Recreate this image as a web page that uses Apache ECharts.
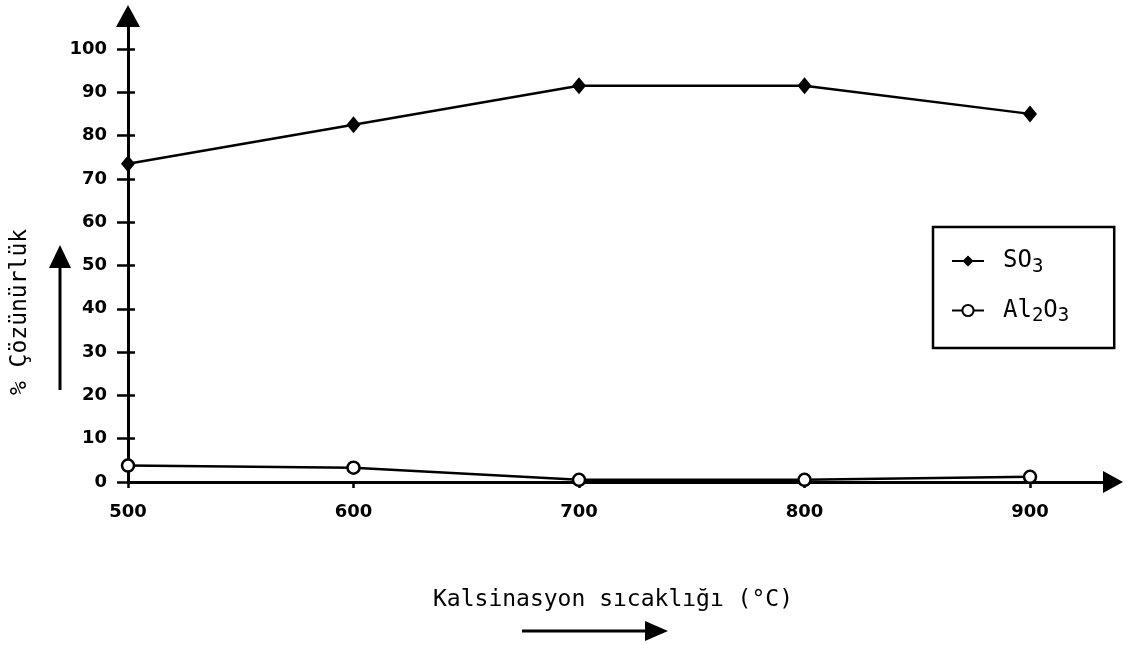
<!DOCTYPE html>
<html>
<head>
<meta charset="utf-8">
<script src="https://cdn.jsdelivr.net/npm/echarts@6/dist/echarts.min.js"></script>
<style>html,body{margin:0;padding:0;background:#fff;}#c{width:1127px;height:645px;}</style>
</head>
<body>
<div id="c"></div>
<script>
const temps = [500, 600, 700, 800, 900];
const so3 = [73.5, 82.5, 91.5, 91.5, 85];
const al2o3 = [3.8, 3.3, 0.5, 0.5, 1.2];
const yTicks = [0, 10, 20, 30, 40, 50, 60, 70, 80, 90, 100];
const xTicks = [500, 600, 700, 800, 900];
const yTitle = '% Çözünürlük';
const xTitle = 'Kalsinasyon sıcaklığı (°C)';

const FONT = 'DejaVu Sans';
const MONO = 'DejaVu Sans Mono';
const chart = echarts.init(document.getElementById('c'));
chart.setOption({
  animation: false,
  backgroundColor: '#fff',
  grid: { left: 128, top: 16, width: 985, bottom: 163, containLabel: false },
  xAxis: {
    type: 'value', min: 500, max: 936.8, interval: 100,
    splitLine: { show: false },
    axisLine: { lineStyle: { color: '#000', width: 3 }, symbol: ['none', 'triangle'], symbolSize: [22, 20] },
    axisTick: { show: true, length: 6, inside: false, lineStyle: { color: '#000', width: 2.5 }, customValues: xTicks },
    axisLabel: { customValues: xTicks, color: '#000', fontFamily: FONT, fontWeight: 'bold', fontSize: 18, margin: 21 }
  },
  yAxis: [{
    type: 'value', min: 0, max: 107.6, interval: 10,
    splitLine: { show: false },
    axisLine: { lineStyle: { color: '#000', width: 3 }, symbol: ['none', 'triangle'], symbolSize: [24, 22] },
    axisTick: { show: true, length: 11, inside: false, lineStyle: { color: '#000', width: 2.5 }, customValues: yTicks },
    axisLabel: { customValues: yTicks, color: '#000', fontFamily: FONT, fontWeight: 'bold', fontSize: 18, margin: 21 }
  }, {
    type: 'value', min: 0, max: 107.6, interval: 10, position: 'left',
    splitLine: { show: false },
    axisLine: { show: false },
    axisTick: { show: true, length: 7, inside: true, lineStyle: { color: '#000', width: 2.5 }, customValues: yTicks.slice(1) },
    axisLabel: { show: false }
  }],
  legend: {
    orient: 'vertical', left: 933, top: 227,
    borderColor: '#000', borderWidth: 2.5, borderRadius: 0,
    padding: [22, 45, 22, 18],
    itemWidth: 32, itemHeight: 14, itemGap: 22,
    data: ['SO3', 'Al2O3'],
    formatter: function (n) { return n === 'SO3' ? 'SO{s|3}' : 'Al{s|2}O{s|3}'; },
    textStyle: {
      color: '#000', fontFamily: MONO, fontSize: 24, padding: [0, 0, 0, 14],
      rich: { s: { fontFamily: MONO, fontSize: 19, color: '#000', padding: [12, 0, 0, 0] } }
    }
  },
  graphic: [
    { type: 'text', x: 20, y: 312, rotation: Math.PI / 2, style: { text: yTitle, fill: '#000', font: '23px "DejaVu Sans Mono"', align: 'center', verticalAlign: 'middle' } },
    { type: 'line', shape: { x1: 60, y1: 390, x2: 60, y2: 262 }, style: { stroke: '#000', lineWidth: 3 } },
    { type: 'polygon', shape: { points: [[60, 245], [49, 268], [71, 268]] }, style: { fill: '#000' } },
    { type: 'text', x: 613, y: 600, style: { text: xTitle, fill: '#000', font: '23px "DejaVu Sans Mono"', align: 'center', verticalAlign: 'middle' } },
    { type: 'line', shape: { x1: 522, y1: 631, x2: 648, y2: 631 }, style: { stroke: '#000', lineWidth: 3 } },
    { type: 'polygon', shape: { points: [[668, 631], [645, 621], [645, 641]] }, style: { fill: '#000' } }
  ],
  series: [{
    name: 'SO3', type: 'line', yAxisIndex: 0,
    data: temps.map((t, i) => [t, so3[i]]),
    symbol: 'diamond', symbolSize: [14, 17],
    itemStyle: { color: '#000' },
    lineStyle: { color: '#000', width: 2.5 }
  }, {
    name: 'Al2O3', type: 'line', yAxisIndex: 0,
    data: temps.map((t, i) => [t, al2o3[i]]),
    symbol: 'circle', symbolSize: 12,
    itemStyle: { color: '#fff', borderColor: '#000', borderWidth: 2.5 },
    lineStyle: { color: '#000', width: 2.5 }
  }]
});
</script>
</body>
</html>
